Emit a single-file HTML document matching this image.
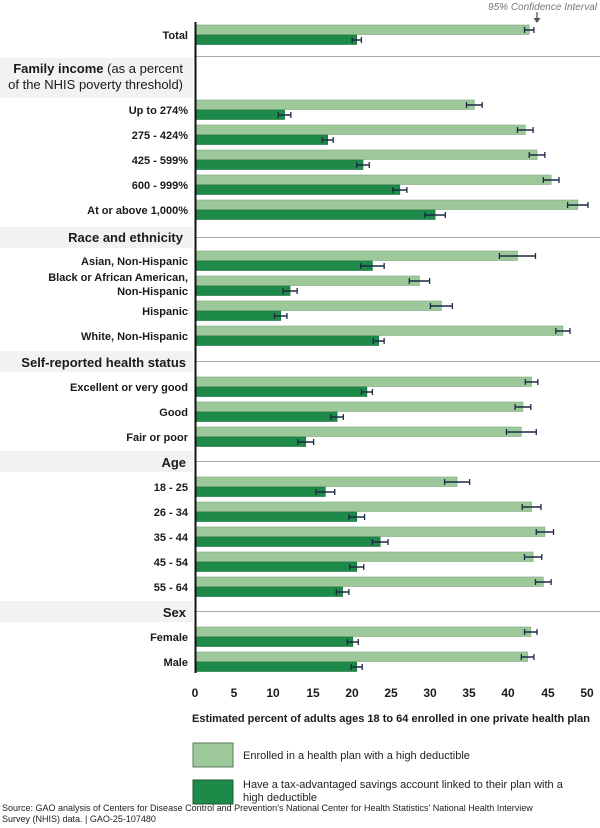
<!DOCTYPE html>
<html><head><meta charset="utf-8"><style>
body{margin:0;background:#fff;}
svg{display:block;font-family:"Liberation Sans",Arial,sans-serif;}
.lab{font-size:11px;font-weight:bold;fill:#1a1a1a;text-anchor:end}
.hdr{font-size:13px;font-weight:bold;fill:#1a1a1a;text-anchor:end}
.tk{font-size:12px;font-weight:bold;fill:#1a1a1a;text-anchor:middle}
</style></head><body>
<svg width="600" height="828" viewBox="0 0 600 828" xmlns="http://www.w3.org/2000/svg">
<text x="597" y="10" font-size="10" font-style="italic" fill="#777" text-anchor="end">95% Confidence Interval</text>
<line x1="537" y1="12" x2="537" y2="20" stroke="#555" stroke-width="1.3"/>
<polygon points="533.5,18 540.5,18 537,23" fill="#555"/>
<rect x="0" y="58" width="193" height="40" fill="#f2f2f2"/>
<rect x="0" y="227" width="193" height="21" fill="#f2f2f2"/>
<rect x="0" y="351" width="193" height="21" fill="#f2f2f2"/>
<rect x="0" y="451" width="193" height="21" fill="#f2f2f2"/>
<rect x="0" y="601" width="193" height="21" fill="#f2f2f2"/>
<g stroke="#aaa" stroke-width="1">
<line x1="196" y1="56.5" x2="600" y2="56.5"/>
<line x1="196" y1="237.5" x2="600" y2="237.5"/>
<line x1="196" y1="361.5" x2="600" y2="361.5"/>
<line x1="196" y1="461.5" x2="600" y2="461.5"/>
<line x1="196" y1="611.5" x2="600" y2="611.5"/>
</g>
<text x="183" y="73" font-size="13" fill="#1a1a1a" text-anchor="end"><tspan font-weight="bold">Family income</tspan> (as a percent</text>
<text x="183" y="89" font-size="13" fill="#1a1a1a" text-anchor="end">of the NHIS poverty threshold)</text>
<text class="hdr" x="183" y="242">Race and ethnicity</text>
<text class="hdr" x="186" y="367">Self-reported health status</text>
<text class="hdr" x="186" y="467">Age</text>
<text class="hdr" x="186" y="617">Sex</text>
<g id="bars"></g>
<line x1="195.5" y1="22" x2="195.5" y2="673" stroke="#111" stroke-width="2"/>
<g>
<text class="tk" x="195" y="697">0</text><text class="tk" x="234" y="697">5</text><text class="tk" x="273" y="697">10</text><text class="tk" x="313" y="697">15</text><text class="tk" x="352" y="697">20</text><text class="tk" x="391" y="697">25</text><text class="tk" x="430" y="697">30</text><text class="tk" x="469" y="697">35</text><text class="tk" x="508" y="697">40</text><text class="tk" x="548" y="697">45</text><text class="tk" x="587" y="697">50</text>
</g>
<text x="192" y="722" font-size="11" font-weight="bold" fill="#1a1a1a">Estimated percent of adults ages 18 to 64 enrolled in one private health plan</text>
<rect x="193" y="743" width="40" height="24" fill="#9cc89a" stroke="#5a7a5a" stroke-width="1"/>
<rect x="193" y="780" width="40" height="24" fill="#1e8a4a" stroke="#155a30" stroke-width="1"/>
<text x="243" y="759" font-size="11" fill="#222">Enrolled in a health plan with a high deductible</text>
<text x="243" y="788" font-size="11" fill="#222">Have a tax-advantaged savings account linked to their plan with a</text>
<text x="243" y="801" font-size="11" fill="#222">high deductible</text>
<text x="2" y="811" font-size="9" fill="#222">Source: GAO analysis of Centers for Disease Control and Prevention’s National Center for Health Statistics’ National Health Interview</text>
<text x="2" y="822" font-size="9" fill="#222">Survey (NHIS) data.  |  GAO-25-107480</text>
<g id="labs"></g>
</svg>
<script>
var d=[["Total",35,42.5,.6,20.5,.6],
["Up to 274%",110,35.5,1,11.3,.8],["275 - 424%",135,42,1,16.8,.7],["425 - 599%",160,43.5,1,21.3,.8],["600 - 999%",185,45.3,1,26,.9],["At or above 1,000%",210,48.7,1.3,30.5,1.3],
["Asian, Non-Hispanic",261,41,2.3,22.5,1.5],["",286,28.5,1.3,12,.9],["Hispanic",311,31.3,1.4,10.8,.8],["White, Non-Hispanic",336,46.8,.9,23.3,.7],
["Excellent or very good",387,42.8,.8,21.8,.7],["Good",412,41.7,1,18,.8],["Fair or poor",437,41.5,1.9,14,1],
["18 - 25",487,33.3,1.6,16.5,1.2],["26 - 34",512,42.8,1.2,20.5,1],["35 - 44",537,44.5,1.1,23.5,1],["45 - 54",562,43,1.1,20.5,.9],["55 - 64",587,44.3,1,18.7,.8],
["Female",637,42.7,.8,20,.7],["Male",662,42.3,.8,20.5,.7]];
var NS="http://www.w3.org/2000/svg",b=document.getElementById("bars"),l=document.getElementById("labs");
function X(v){return 196+v*7.84}
function el(p,t,a,tx){var e=document.createElementNS(NS,t);for(var k in a)e.setAttribute(k,a[k]);if(tx)e.textContent=tx;p.appendChild(e);return e}
function eb(x,e,y){var a=X(x-e),c=X(x+e);el(b,"line",{x1:a,x2:c,y1:y,y2:y,stroke:"#1d2a44","stroke-width":1.5});el(b,"line",{x1:a,x2:a,y1:y-3,y2:y+3,stroke:"#1d2a44","stroke-width":1.3});el(b,"line",{x1:c,x2:c,y1:y-3,y2:y+3,stroke:"#1d2a44","stroke-width":1.3});}
d.forEach(function(r){var y=r[1];
el(b,"rect",{x:196,y:y-10,width:X(r[2])-196,height:9.5,fill:"#9cc89a",stroke:"#7fa67e","stroke-width":.6});
el(b,"rect",{x:196,y:y,width:X(r[4])-196,height:9.5,fill:"#1e8a4a",stroke:"#17703b","stroke-width":.6});
eb(r[2],r[3],y-5);eb(r[4],r[5],y+5);
if(r[0])el(l,"text",{"class":"lab",x:188,y:y+4},r[0]);
});
el(l,"text",{"class":"lab",x:188,y:281},"Black or African American,");
el(l,"text",{"class":"lab",x:188,y:295},"Non-Hispanic");
</script>
</body></html>
